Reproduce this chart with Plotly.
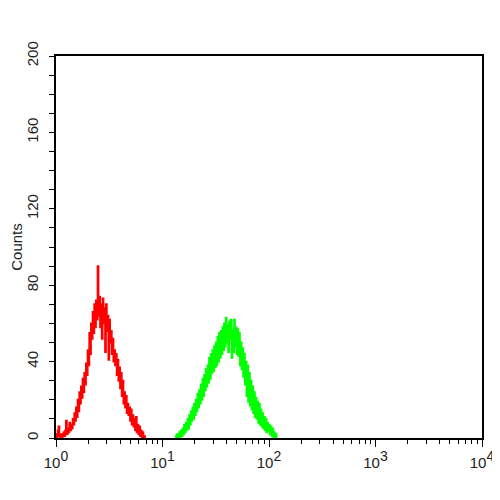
import plotly.graph_objects as go

# Channel resolution: 128 channels per decade (log scale, 4 decades)
CH_PER_DECADE = 128

red_start = 0
red_counts = [2, 0, 4, 6, 1, 0, 2, 0, 1, 3, 1, 4, 9, 2, 5, 3, 8, 4, 7, 5,
              10, 7, 13, 9, 16, 11, 20, 14, 24, 18, 27, 21, 31, 24, 34, 28, 39, 33, 46, 38,
              55, 44, 60, 52, 66, 55, 70, 58, 72, 62, 90, 64, 74, 58, 70, 52, 73, 60, 68, 45,
              70, 56, 64, 41, 62, 50, 56, 44, 52, 40, 46, 38, 44, 33, 41, 30, 37, 26, 34, 22,
              30, 18, 24, 16, 22, 13, 18, 12, 16, 9, 15, 7, 12, 6, 10, 4, 11, 3, 7, 2,
              6, 1, 4, 0, 3, 0, 1, 0]

green_start = 143
green_counts = [1, 0, 2, 0, 1, 3, 0, 4, 1, 5, 2, 7, 3, 8, 4, 10, 5, 12, 7, 14,
                9, 16, 10, 18, 12, 20, 14, 23, 16, 25, 18, 28, 20, 31, 22, 33, 25, 36, 27, 38,
                29, 42, 31, 44, 34, 46, 35, 48, 37, 50, 38, 53, 40, 55, 42, 56, 44, 58, 46, 60,
                48, 63, 50, 59, 45, 61, 52, 62, 42, 56, 45, 62, 48, 58, 44, 57, 43, 55, 38, 50,
                36, 47, 32, 44, 28, 40, 22, 38, 19, 34, 17, 30, 15, 27, 13, 24, 11, 21, 10, 19,
                8, 18, 7, 15, 6, 13, 5, 11, 4, 10, 3, 8, 4, 7, 2, 6, 1, 5, 0, 3,
                0, 2, 0]

x_tickvals = [1, 10, 100, 1000, 10000]
x_exponents = ["0", "1", "2", "3", "4"]
x_minor = [m * 10 ** d for d in range(4) for m in range(2, 10)]
y_tickvals = [0, 40, 80, 120, 160, 200]
y_label = "Counts"

x_ticktext = ["10<sup><span style='font-size:14px'>%s</span></sup>" % e for e in x_exponents]


def channel_x(start, n):
    return [10 ** ((start + i) / CH_PER_DECADE) for i in range(n)]


fig = go.Figure()
fig.add_trace(go.Scatter(x=channel_x(red_start, len(red_counts)), y=red_counts,
                         mode="lines", line=dict(color="#ff0000", width=1.9, shape="hv"),
                         showlegend=False))
fig.add_trace(go.Scatter(x=channel_x(green_start, len(green_counts)), y=green_counts,
                         mode="lines", line=dict(color="#00ff00", width=1.9, shape="hv"),
                         showlegend=False))

font = dict(family="Liberation Sans, Arial, sans-serif", size=15, color="#222")

fig.update_layout(
    width=492, height=492,
    margin=dict(l=48, r=18, t=48, b=62),
    paper_bgcolor="white", plot_bgcolor="white",
    font=font,
    xaxis=dict(type="log", range=[0, 4], tickvals=x_tickvals, ticktext=x_ticktext,
               automargin=False, ticklabelstandoff=3,
               showgrid=False, zeroline=False, showline=True, linecolor="black",
               linewidth=1.5, mirror=True, ticks="outside", ticklen=7, tickwidth=1.3,
               tickcolor="black", tickfont=font,
               minor=dict(tickvals=x_minor, ticks="outside", ticklen=4, tickwidth=1.2,
                          tickcolor="black", showgrid=False)),
    yaxis=dict(range=[0, 200], tickvals=y_tickvals, tickangle=-90,
               automargin=False, ticklabelstandoff=5,
               showgrid=False, zeroline=False, showline=True, linecolor="black",
               linewidth=1.5, mirror=True, ticks="outside", ticklen=5, tickwidth=1.3,
               tickcolor="black", tickfont=font,
               title=dict(text=y_label, font=dict(family=font["family"], size=15, color="#222"),
                          standoff=8),
               minor=dict(dtick=10, ticks="outside", ticklen=5, tickwidth=1.2,
                          tickcolor="black", showgrid=False)),
)

fig.write_html("out.html")
